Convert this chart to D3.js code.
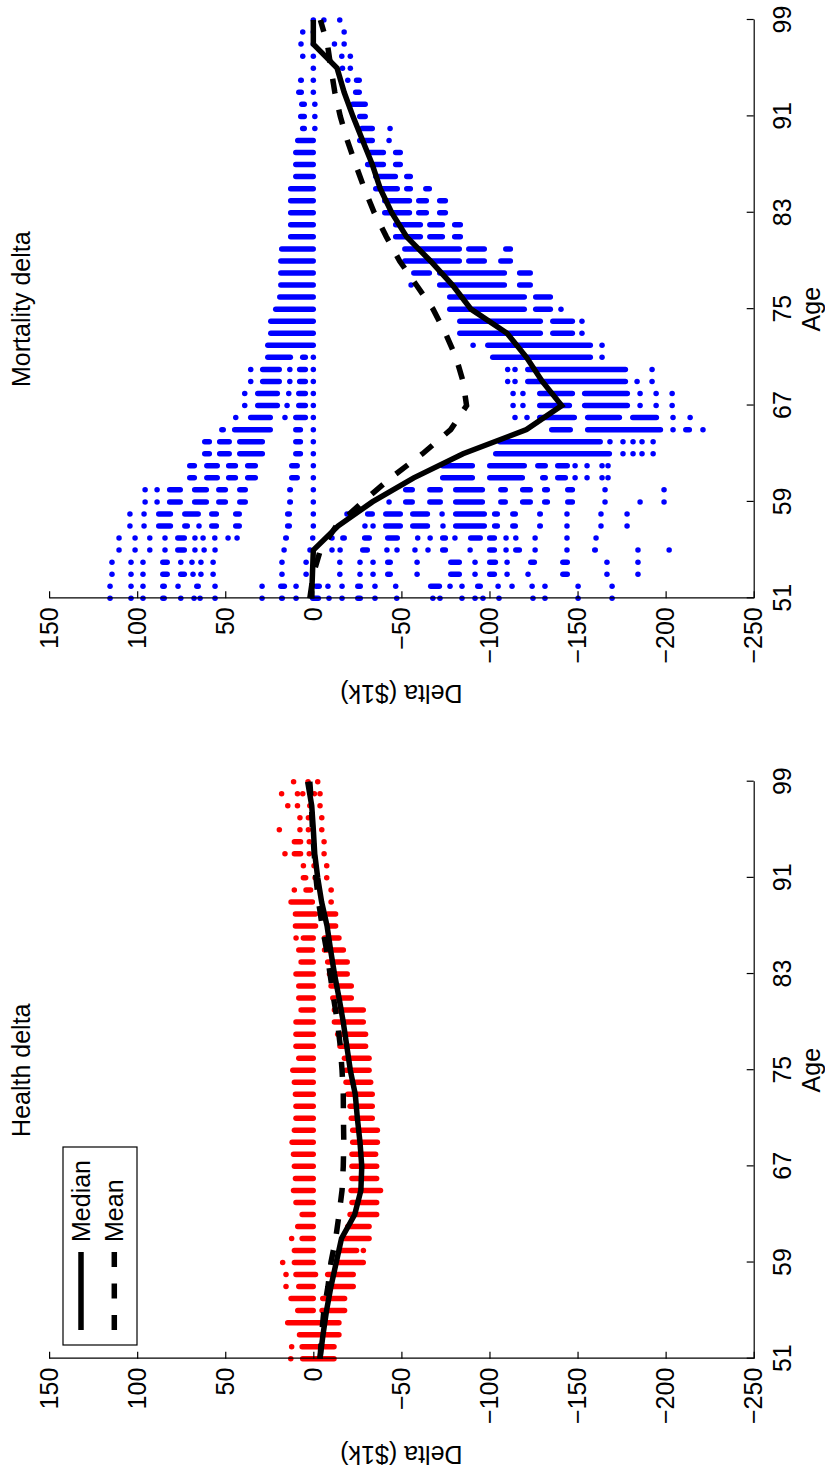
<!DOCTYPE html>
<html><head><meta charset="utf-8">
<script src="https://cdn.jsdelivr.net/npm/d3@7"></script>
<style>
html,body{margin:0;padding:0;background:#fff;}
text{font-family:"Liberation Sans",Arial,Helvetica,sans-serif;}
</style>
</head><body><div id="chart"></div>
<script>
// ---------------- DATA ----------------
const dotAges = [51,52,53,54,55,56,57,58,59,60,61,62,63,64,65,66,67,68,69,70,71,72,73,74,75,76,77,78,79,80,81,82,83,84,85,86,87,88,89,90,91,92,93,94,95,96,97,98,99];
const ageTicks = [51,59,67,75,83,91,99];
const deltaTicks = [150,100,50,0,-50,-100,-150,-200,-250];
const lineAges = [51,53,55,57,59,61,63,65,67,69,71,73,75,77,79,81,83,85,87,89,91,93,95,97,99];

const healthMedian = [-3.8,-5.5,-7.5,-10,-13,-16,-23.5,-27,-27.5,-26.5,-25,-23.8,-21,-19,-17,-14.6,-12,-9.8,-7.8,-4.7,-2.5,-0.8,0,0.9,3.2];
const healthMean   = [-3.8,-4.7,-6,-8.3,-10,-12.7,-14.6,-16.3,-17,-17.3,-17.1,-17,-16.3,-15.3,-13.7,-11.5,-9.5,-7.5,-5,-3,-1.5,-0.5,0.5,1,2];
const mortalityMedian = [1,0.5,0,-14,-33.5,-57,-85,-121,-141,-130,-121,-110,-89.5,-79,-66.5,-53,-44.5,-38,-33.5,-28,-22.5,-17.5,-13.5,0,0];
const mortalityMean   = [2,0,-4,-13,-28,-44,-62,-78,-87,-85,-81,-75,-68,-58.5,-49,-41.5,-34.6,-29,-24,-19.3,-15.3,-12.2,-10,-8,-4];

// scatter rows, one per age in dotAges: single values are dots, pairs are dense runs of dots
const healthDots = [
 [12.8,[7.6,-13.3]],
 [12.3,[7.9,-13.3]],
 [[9.4,-16.1]],
 [[16.1,-16.1]],
 [[10.4,-1.5],[-3.4,-19.3]],
 [[14.2,-1.5],[-3.8,-19.3]],
 [15.5,[9.8,-1.5],[-7.6,-24.2]],
 [15.5,[11.4,-2.8],[-6.6,-24.2]],
 [17.4,[12.3,-1.5],[-12.3,-29.9]],
 [[12.3,-1.5],[-14.2,-26.1],-28.4],
 [12.3,[7.9,-1.5],[-16.1,-33.2]],
 [[10.4,-1.5],[-18,-33.2]],
 [[7.9,-1.5],[-19.3,-37.5]],
 [[11.4,-1.5],[-20.4,-37.5]],
 [[12.8,-1.5],[-19.9,-39.7]],
 [[11.7,-1.5],[-20.4,-37.5]],
 [[12.3,-1.5],[-20.4,-37.5]],
 [[12.8,-1.5],[-20.4,-36.9]],
 [[13.6,-1.5],[-20.8,-37.9]],
 [[12.3,-1.5],[-20.8,-37.9]],
 [[11.4,-1.5],[-20,-35]],
 [[11.4,-1.5],[-19.3,-35]],
 [[11.7,-1.5],[-18,-35]],
 [[12.3,-1.5],[-17,-34.1]],
 [[13.2,-1.5],[-17,-33.2]],
 [[9.8,-1.5],[-16.1,-33.2]],
 [[11.4,-1.5],[-13.6,-31.2]],
 [[11.4,-1.5],[-12.3,-31.2]],
 [[11.4,-1.5],[-10.4,-29.9]],
 [[8.5,-1.5],[-10.4,-29.9]],
 [[9.8,-1.5],[-9.5,-23.1]],
 [[9.8,-1.5],[-8.5,-23.1]],
 [[11.4,-1.5],[-7.6,-20.8]],
 [[8.5,-1.5],[-6.6,-20.8]],
 [[9.8,-1],[-4.8,-18.6]],
 [9.8,[7.2,-1.5],[-4.8,-16.1]],
 [[11.7,-2.8],[-6.6,-14.2]],
 [[11.7,-2.8],[-6.6,-14.2]],
 [[14.2,-1],[-8.5,-11.7]],
 [10.8,[5.7,0],[-8.5,-11.7]],
 [[7.2,2.8],-1,-7.6],
 [[7.2,4.1],-0.4,-7.6],
 [16.1,[12.3,5.7],2.3,-6.1],
 [[12.3,5.7],2.3,-6.1],
 [19.3,7.6,2.8,-4.8],
 [7.6,2.8,-4.8],
 [14.5,9,2,-3.8],
 [18,9,6,-0.6,-3.8],
 [11.2,3,-2.5]
];

const mortalityDots = [
 [115.4,103.5,96.7,[87,83.1],[76.8,74.5],67.7,64.3,55.8,29.1,[19.5,16.1],9.8,[1.9,-4.4],-8.9,-16.3,[-23.7,-28.2],-35,[-45.8,-47.5],[-66.3,-68.5],-71.9,-84.4,-91.8,-96.3,-105.4,-124.7,-131.5,-150.3,-169.6],
 [115.4,103.5,96.7,[87,83.1],76.8,[67.7,63.8],55.8,29.1,[20,14.9],9.8,[0,-4.9],-8.3,-16.3,[-23.7,-28.2],-35,[-45.2,-48.1],[-65.1,-73.1],-77.6,-84.4,[-91.8,-96.3],-104.9,-112.8,-124.2,-131.5,-150.3,-169.6],
 [114.3,103.5,96.7,[87,81.4],[76.8,71.7],68.3,63.8,56.9,17.8,4.1,[-13.5,-16.3],-26.5,-33.9,[-40.7,-45.2],-58.9,[-76.5,-84.4],-91.8,[-98.6,-104.3],-110,-121.9,[-140.1,-145.7],-166.7,-184.3],
 [114.3,103.5,96.7,[87,81.4],[76.8,74],68.9,63.8,56.9,17.8,4.1,[-13.5,-16.3],-26.5,-33.9,[-40.7,-45.2],-58.9,[-76.5,-84.4],-91.8,[-98.6,-104.9],-110,[-121.9,-127],[-140.1,-145.7],-166.7,-184.3],
 [110.3,101.2,[94.4,91.6],84.2,[78.5,71.7],67.2,62,55.8,16.6,1.9,-10.6,-15.2,[-26.5,-32.2],-41.8,-47.5,-57.7,-65.1,[-71.9,-76.5],-89,[-98.6,-104.3],-109.4,[-113.4,-118.5],-125.9,-144,[-158.2,-161.6],-184.3,-202],
 [110.3,101.2,[94.4,91.6],84.2,[78.5,71.7],67.2,62.6,[57.5,54.7],48.4,43.3,[17.2,13.8],[1.9,-1],-10.6,[-15.2,-19.1],[-27.6,-33.3],[-40.7,-49.2],[-57.7,-60.6],-66.3,[-71.9,-76.5],-80.4,[-87.8,-96.3],[-98.6,-104.3],-109.4,[-113.4,-116.2],-125.9,-144,-160.5],
 [104.1,96.1,[89.3,79.6],[74.5,70],64.9,[59.2,53.5],[45.6,40.5],[16.1,12.1],0,-29.3,-33.9,[-39.6,-50.9],[-54.9,-66.3],-73.6,[-79.3,-98.6],[-101.4,-106],[-111.7,-116.2],[-127,-130.4],-144,-163.3,-178.1],
 [104.1,96.1,[89.3,79.6],[74.5,63.8],[59.2,53.5],[45.6,40.5],[16.1,12.1],0,-19.1,[-29.3,-35],[-39.6,-50.9],[-54.9,-66.3],-73.1,[-79.3,-98.6],[-101.4,-106],[-111.7,-116.2],[-127,-130.4],-144,-163.3,-178.1],
 [95.5,88.7,[83.1,74],[68.9,59.2],[55.2,48.4],[43.3,37.1],[14.9,11.5],0,-43,[-50.9,-57.7],[-64.6,-73.6],[-79.3,-97.5],[-104.9,-110.5],[-117.3,-124.7],[-129.8,-134.4],[-142.9,-148.6],-165.6,-185.5,-199.1],
 [95.5,88.7,[83.1,74],[68.9,59.2],[55.2,48.4],[43.3,37.1],[14.9,11.5],0,[-50.9,-57.7],[-64.6,-73.6],[-79.3,-97.5],[-104.9,-110.5],[-117.3,-124.7],[-129.8,-134.4],[-142.9,-148.6],-165.6,-199.1],
 [[71.7,66],[62,53],[49.6,42.7],[38.8,31.4],[13.8,7.6],0,[-71.9,-91.8],[-98.6,-120.2],[-128.7,-133.2],[-137.2,-144.6],-148.6,-155.4,-163.9,-167.3],
 [[71.7,66],[62,53],[49.6,42.7],[38.8,31.4],[13.8,7.6],0,[-71.9,-91.8],[-98.6,-121.3],[-125.9,-133.2],[-137.2,-145.7],-148.6,-155.4,-163.9,-167.3],
 [[63.2,57.5],[54.7,46.2],[43.3,27.4],[11.5,5.8],0,[-102,-169.6],-175.8,-181.5,-186.6,-192.9],
 [[63.2,57.5],[54.7,46.2],[43.3,27.4],[11.5,5.8],0,[-104.3,-164.4],-168.4,-175.8,-181.5,-186.6,-192.9],
 [[53.5,49.6],[46.2,22.9],[11.5,5.8],0,[-133.8,-147.4],[-154.2,-198.6],-204.2,[-209.9,-215],-221.2],
 [[45.6,42.7],[37.1,22.9],16.1,[11.5,3],0,-114.5,-121.3,[-127,-149.7],[-154.2,-175.3],[-179.8,-196.3],-204.2,-213.9],
 [[40.5,37.6],[33.1,18.9],14.9,[9.8,3],0,-113.4,-119,[-127,-146.9],[-152.5,-179.8],-185.5,-194.6,-203.7],
 [[40.5,37.6],[33.1,18.9],[15.5,13.8],[9.8,3],0,-113.4,-119,[-127,-148.6],[-152.5,-179.8],-185.5,-194.6,-203.7],
 [[37.1,34.2],[30.3,17.8],[14.9,12.1],[9.3,3],0,[-108.8,-111.7],-114.5,[-120.2,-178.7],-183.8,-192.3],
 [[37.1,34.2],[30.3,17.8],[14.9,12.1],[9.3,3],0,[-108.8,-111.7],-114.5,[-120.2,-178.7],-192.3],
 [[27.4,11.5],[7.6,3],0,[-100.3,-158.8],-163.9],
 [[27.4,-1.5],-90.7,[-97.5,-158.8],-163.9],
 [[25.7,-1.5],[-81.6,-130.4],[-134.4,-148.6],-152.5],
 [[25.7,-1.5],[-81.6,-130.4],[-134.4,-148.6],-152.5],
 [[22.9,-1.5],[-75.9,-121.3],[-124.7,-136.1],-140.6],
 [[20.6,-1.5],[-75.9,-121.3],[-124.7,-136.1]],
 [[20,-1.5],-55.5,[-70.2,-110],[-115.6,-124.7]],
 [[20,-1.5],[-55.5,-67.4],[-70.2,-110],[-115.6,-124.7]],
 [[20,-1.5],[-50.4,-84.4],[-86.7,-98.6],[-104.9,-113.4]],
 [[19.5,-1.5],[-50.4,-84.4],[-86.7,-98.6],[-107.7,-113.4]],
 [[14.4,-1.5],[-45.2,-62.3],[-64.6,-74.8],[-78.7,-85]],
 [[14.4,-1.5],[-45.2,-62.3],[-64.6,-74.8],[-78.7,-85]],
 [[14.4,-1.5],[-39,-56.1],[-58.3,-65.7],[-70.2,-76.5]],
 [[14.4,-1.5],[-39,-56.1],[-58.3,-65.7],[-70.2,-76.5]],
 [[14.4,-1.5],[-33.9,-49.2],[-51.5,-56.6],[-62.3,-67.4]],
 [[11.5,-1.5],[-33.9,-48.1],[-51.5,-56.6]],
 [[11.5,-1.5],[-29.3,-41.3],[-45.2,-50.9]],
 [[11.5,-1.5],[-30.5,-41.3],[-45.2,-50.9]],
 [[10.4,-1.5],[-24.8,-35],-43],
 [[7.6,3.6],[0.7,-1.5],[-26,-35],[-42,-43.5]],
 [[8.7,3.6],[0.7,-1.5],[-24.8,-31]],
 [[8.1,3.6],[0.7,-1.5],[-20.8,-31]],
 [[9.8,5.3],0,[-22.5,-27.6]],
 [[8.7,5.3],0,[-18,-19],[-23,-27.6]],
 [0,[-15,-17],-21],
 [6,0,[-14.6,-16.3],-21],
 [7,0,-12,-17.5],
 [6,0,-17.5],
 [0,-6,-15]
];

// ---------------- DRAW ----------------
const W = 825, H = 1476;           // page
const FONT = 25;
const svg = d3.select('#chart').append('svg').attr('width', W).attr('height', H);
svg.append('rect').attr('width', W).attr('height', H).attr('fill', '#fff');
// figure is drawn landscape (H wide, W tall) and rotated a quarter turn counter-clockwise
const root = svg.append('g').attr('transform', `translate(0,${H}) rotate(-90)`)
  .attr('font-family', '"Liberation Sans",Arial,Helvetica,sans-serif').attr('font-size', FONT);

const yTop = 49.1, yBot = 753.7;
const y = d3.scaleLinear().domain([-250, 150]).range([yBot, yTop]);

const panels = [
  {title: 'Health delta', dots: healthDots, color: '#ff0000', median: healthMedian, mean: healthMean, x0: 117.3, x1: 694.3, legend: true},
  {title: 'Mortality delta', dots: mortalityDots, color: '#0000ff', median: mortalityMedian, mean: mortalityMean, x0: 877.7, x1: 1456, legend: false}
];

const R = 2.75, LW = 5.5, DASH = '15,16.5';

panels.forEach(p => {
  const x = d3.scaleLinear().domain([51, 99]).range([p.x0, p.x1]);
  const g = root.append('g');

  // scatter
  const dg = g.append('g').attr('fill', p.color);
  p.dots.forEach((row, i) => {
    const age = dotAges[i];
    row.forEach(v => {
      if (Array.isArray(v)) {
        const top = y(Math.max(v[0], v[1])), bot = y(Math.min(v[0], v[1]));
        const h = Math.max(bot - top, 2 * R);
        dg.append('rect').attr('x', x(age) - R).attr('width', 2 * R)
          .attr('y', top).attr('height', h).attr('rx', R).attr('ry', R);
      } else {
        dg.append('circle').attr('cx', x(age)).attr('cy', y(v)).attr('r', R);
      }
    });
  });

  // median / mean lines
  const line = d3.line().x((d, i) => x(lineAges[i])).y(d => y(d));
  g.append('path').datum(p.median).attr('d', line).attr('fill', 'none')
    .attr('stroke', '#000').attr('stroke-width', LW).attr('stroke-linejoin', 'miter');
  g.append('path').datum(p.mean).attr('d', line).attr('fill', 'none')
    .attr('stroke', '#000').attr('stroke-width', LW).attr('stroke-dasharray', DASH);

  // axes
  const ax = g.append('g').attr('transform', `translate(0,${yBot})`)
    .call(d3.axisBottom(x).tickValues(ageTicks).tickSizeInner(-7).tickSizeOuter(0).tickPadding(20).tickFormat(d3.format('d')));
  const ay = g.append('g').attr('transform', `translate(${p.x0},0)`)
    .call(d3.axisLeft(y).tickValues(deltaTicks).tickSizeInner(-7).tickSizeOuter(0).tickPadding(9));
  [ax, ay].forEach(a => {
    a.attr('font-size', FONT).attr('font-family', '"Liberation Sans",Arial,Helvetica,sans-serif');
    a.selectAll('path,line').attr('stroke', '#000').attr('stroke-width', 1.2);
    a.selectAll('text').attr('fill', '#000');
  });

  const cx = (p.x0 + p.x1) / 2;
  g.append('text').attr('x', cx).attr('y', 30).attr('text-anchor', 'middle').text(p.title);
  g.append('text').attr('x', cx).attr('y', 820).attr('text-anchor', 'middle').text('Age');
  g.append('text').attr('transform', `translate(${p.x0 - 87},${(yTop + yBot) / 2}) rotate(-90)`)
    .attr('text-anchor', 'middle').text('Delta ($1k)');

  if (p.legend) {
    const lg = g.append('g');
    lg.append('rect').attr('x', 131).attr('y', 63).attr('width', 198).attr('height', 74)
      .attr('fill', '#fff').attr('stroke', '#000').attr('stroke-width', 1.2);
    const rows = [{label: 'Median', dash: null, yy: 81}, {label: 'Mean', dash: DASH, yy: 114.3}];
    rows.forEach(r => {
      lg.append('line').attr('x1', 146).attr('x2', 224).attr('y1', r.yy).attr('y2', r.yy)
        .attr('stroke', '#000').attr('stroke-width', LW).attr('stroke-dasharray', r.dash);
      lg.append('text').attr('x', 234).attr('y', r.yy).attr('dy', '0.36em').text(r.label);
    });
  }
});
</script>
</body></html>
